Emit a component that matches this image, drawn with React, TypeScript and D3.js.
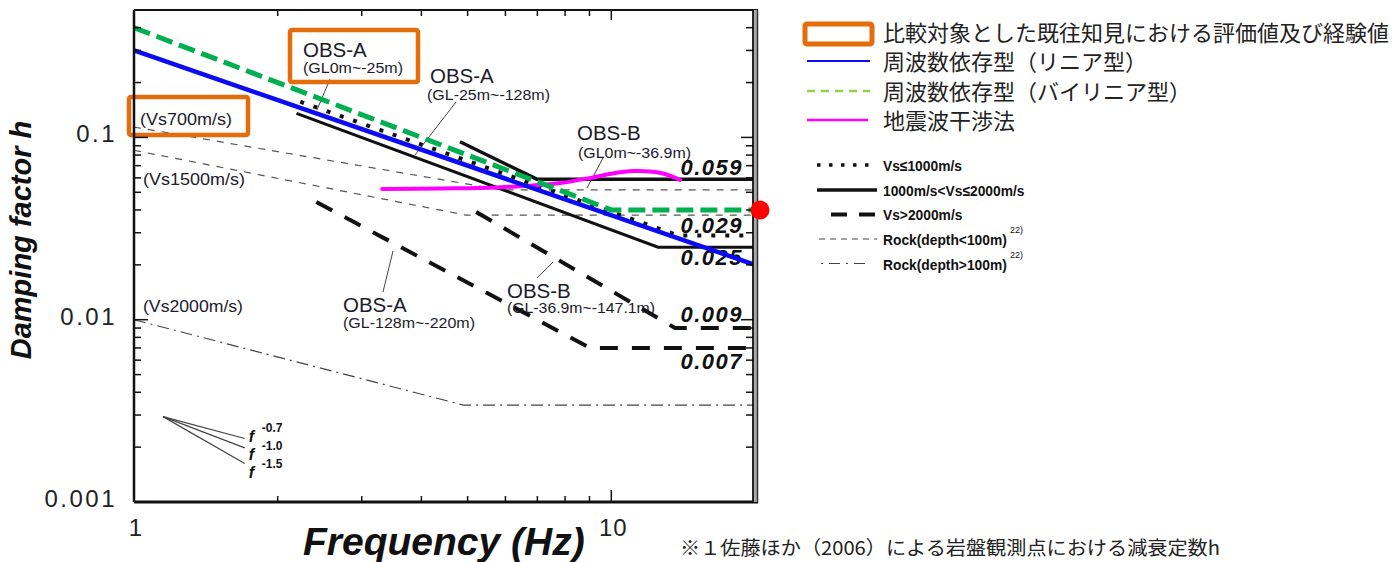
import React from 'react';
import * as d3 from 'd3';

type Pt = [number, number];

// ---------- data ----------
const freqDomain: [number, number] = [1, 20];
const dampDomain: [number, number] = [0.001, 0.5];
const xMajorTicks = [1, 10];
const xMinorTicks = [2, 3, 4, 5, 6, 7, 8, 9];
const yMajorTicks = [0.001, 0.01, 0.1];
const yMinorTicks = [
  0.002, 0.003, 0.004, 0.005, 0.006, 0.007, 0.008, 0.009,
  0.02, 0.03, 0.04, 0.05, 0.06, 0.07, 0.08, 0.09,
  0.2, 0.3, 0.4,
];
const xTickLabels = ['1', '10'];
const yTickLabels = ['0.001', '0.01', '0.1'];

const linearModel: Pt[] = [[1, 0.3], [20, 0.02]];
const bilinearModel: Pt[] = [[1, 0.4], [10, 0.04], [20, 0.04]];
const interferometry: Pt[] = [
  [3.31, 0.0521], [4.38, 0.0525], [5.76, 0.0532], [6.85, 0.0545], [7.81, 0.0562],
  [9.03, 0.0599], [10.18, 0.0638], [11.1, 0.0654], [12.05, 0.065], [12.96, 0.063], [13.93, 0.0584],
];
const vsUnder1000A: Pt[] = [[2.23, 0.157], [13.8, 0.029], [20, 0.029]];
const vsMid1000A: Pt[] = [[2.19, 0.1356], [12.53, 0.025], [20, 0.025]];
const vsMid1000B: Pt[] = [[4.82, 0.0947], [6.98, 0.059], [20, 0.059]];
const vsOver2000A: Pt[] = [[2.41, 0.0442], [9.03, 0.007], [20, 0.007]];
const vsOver2000B: Pt[] = [[5.21, 0.039], [13.6, 0.009], [20, 0.009]];
const rockShallowVs700: Pt[] = [[1, 0.114], [5.9, 0.0515], [20, 0.0515]];
const rockShallowVs1500: Pt[] = [[1, 0.085], [4.95, 0.0375], [20, 0.0375]];
const rockDeepVs2000: Pt[] = [[1, 0.01], [4.9, 0.0034], [20, 0.0034]];
const slopeExponents = [-0.7, -1.0, -1.5];
const slopeLabels = ['-0.7', '-1.0', '-1.5'];
const slopeOrigin: Pt = [1.15, 0.00294];
const slopeEndFreq = 1.706;
const valueLabels = [0.059, 0.029, 0.025, 0.009, 0.007];
const valueLabelTexts = ['0.059', '0.029', '0.025', '0.009', '0.007'];

const legendMain = [
  '比較対象とした既往知見における評価値及び経験値',
  '周波数依存型（リニア型）',
  '周波数依存型（バイリニア型）',
  '地震波干渉法',
];
const legendScan = ['Vs≤1000m/s', '1000m/s<Vs≤2000m/s', 'Vs>2000m/s', 'Rock(depth<100m)', 'Rock(depth>100m)'];
const noteText = '※１佐藤ほか（2006）による岩盤観測点における減衰定数h';

// ---------- layout ----------
const W = 1393;
const H = 562;
const L = 134;
const R = 755;
const T = 10;
const B = 502;
const valueLabelOffsets = [-4, -2, 18, -6, 21];
const slopeLabelBaselines = [442, 460, 478];
const scanLegendBaselines = [171, 196, 220, 245, 270];

const SANS = "'Liberation Sans', Arial, Helvetica, sans-serif";
const CJK = "'Noto Sans CJK JP', 'Noto Sans', sans-serif";
const ORANGE = '#E46C0A';

export default function App() {
  const x = d3.scaleLog().domain(freqDomain).range([L, R]);
  const y = d3.scaleLog().domain(dampDomain).range([B, T]);
  const line = d3.line<Pt>().x((d) => x(d[0])).y((d) => y(d[1]));
  const smooth = d3.line<Pt>().x((d) => x(d[0])).y((d) => y(d[1])).curve(d3.curveCatmullRom.alpha(0.5));

  const slopeLines = slopeExponents.map((n) => {
    const pts: Pt[] = [slopeOrigin, [slopeEndFreq, slopeOrigin[1] * Math.pow(slopeEndFreq / slopeOrigin[0], n)]];
    return pts;
  });

  return (
    <svg width={W} height={H} viewBox={`0 0 ${W} ${H}`} style={{ position: 'absolute', left: 0, top: 0, background: '#fff' }}>
      <rect x={0} y={0} width={W} height={H} fill="#fff" />

      {/* rock reference lines */}
      <path d={line(rockShallowVs700) || ''} fill="none" stroke="#555" strokeWidth={1.2} strokeDasharray="7,7" />
      <path d={line(rockShallowVs1500) || ''} fill="none" stroke="#555" strokeWidth={1.2} strokeDasharray="7,7" />
      <path d={line(rockDeepVs2000) || ''} fill="none" stroke="#444" strokeWidth={1.2} strokeDasharray="12,5,2,5" />

      {/* scanned black lines */}
      <path d={line(vsUnder1000A) || ''} fill="none" stroke="#111" strokeWidth={4} strokeDasharray="4,10" />
      <path d={line(vsMid1000A) || ''} fill="none" stroke="#111" strokeWidth={3} />
      <path d={line(vsMid1000B) || ''} fill="none" stroke="#111" strokeWidth={3.5} />
      <path d={line(vsOver2000A) || ''} fill="none" stroke="#111" strokeWidth={4} strokeDasharray="18,14" />
      <path d={line(vsOver2000B) || ''} fill="none" stroke="#111" strokeWidth={4} strokeDasharray="18,14" />

      {/* slope guide */}
      {slopeLines.map((pts, i) => (
        <path key={i} d={line(pts) || ''} fill="none" stroke="#444" strokeWidth={1.2} />
      ))}
      {slopeLabels.map((s, i) => {
        const end = slopeLines[i][1];
        const ly = slopeLabelBaselines[i];
        return (
          <g key={s} fontFamily={SANS} fill="#111" fontWeight="bold">
            <text x={x(end[0]) + 4} y={ly} fontSize={16} fontStyle="italic">f</text>
            <text x={x(end[0]) + 17} y={ly - 10} fontSize={12}>{s}</text>
          </g>
        );
      })}

      {/* leader lines */}
      <g stroke="#444" strokeWidth={1} fill="none">
        <line x1={330} y1={79} x2={317} y2={110} />
        <line x1={456} y1={102} x2={415} y2={155} />
        <line x1={603} y1={158} x2={587} y2={188} />
        <line x1={393} y1={251} x2={383} y2={292} />
        <line x1={537} y1={278} x2={553} y2={262} />
      </g>

      {/* annotations */}
      <g fontFamily={SANS} fill="#1b1b2b">
        <text x={303} y={56.5} fontSize={20.5}>OBS-A</text>
        <text x={303} y={73} fontSize={14.5} textLength={100} lengthAdjust="spacingAndGlyphs">(GL0m~-25m)</text>
        <text x={430} y={83} fontSize={20.5}>OBS-A</text>
        <text x={427} y={99.5} fontSize={14.5} textLength={123} lengthAdjust="spacingAndGlyphs">(GL-25m~-128m)</text>
        <text x={577} y={140} fontSize={20.5}>OBS-B</text>
        <text x={578} y={158} fontSize={14.5} textLength={113} lengthAdjust="spacingAndGlyphs">(GL0m~-36.9m)</text>
        <text x={343} y={311.5} fontSize={20.5}>OBS-A</text>
        <text x={343} y={328} fontSize={14.5} textLength={132} lengthAdjust="spacingAndGlyphs">(GL-128m~-220m)</text>
        <text x={507} y={298} fontSize={20.5}>OBS-B</text>
        <text x={507} y={313} fontSize={14.5} textLength={148} lengthAdjust="spacingAndGlyphs">(GL-36.9m~-147.1m)</text>
        <text x={140} y={125} fontSize={17} textLength={92} lengthAdjust="spacingAndGlyphs">(Vs700m/s)</text>
        <text x={143} y={185} fontSize={17} textLength={102} lengthAdjust="spacingAndGlyphs">(Vs1500m/s)</text>
        <text x={143} y={311.5} fontSize={17} textLength={100} lengthAdjust="spacingAndGlyphs">(Vs2000m/s)</text>
      </g>

      {/* value labels */}
      {valueLabels.map((v, i) => (
        <text
          key={valueLabelTexts[i]}
          x={743}
          y={y(v) + valueLabelOffsets[i]}
          textAnchor="end"
          fontFamily={SANS}
          fontWeight="bold"
          fontStyle="italic"
          fontSize={22}
          letterSpacing={1.5}
          fill="#111"
        >
          {valueLabelTexts[i]}
        </text>
      ))}

      {/* orange boxes */}
      <rect x={290} y={30} width={128} height={52} rx={2} fill="none" stroke={ORANGE} strokeWidth={4.5} />
      <rect x={129} y={97} width={119} height={38} rx={2} fill="none" stroke={ORANGE} strokeWidth={4.5} />

      {/* overlaid evaluation lines */}
      <path d={smooth(interferometry) || ''} fill="none" stroke="#FF00FF" strokeWidth={4} strokeLinecap="round" />
      <path d={line(linearModel) || ''} fill="none" stroke="#0A0AF5" strokeWidth={4.5} />
      <path d={line(bilinearModel) || ''} fill="none" stroke="#00B050" strokeWidth={5} strokeDasharray="17,7" />

      {/* frame */}
      <line x1={L} y1={T} x2={R + 3} y2={T} stroke="#111" strokeWidth={2} />
      <line x1={L} y1={B} x2={R + 3} y2={B} stroke="#111" strokeWidth={3} />
      <line x1={L} y1={T} x2={L} y2={B} stroke="#111" strokeWidth={2.5} />
      <rect x={R - 2} y={T} width={5} height={B - T} fill="#aaa" />
      <line x1={R - 2} y1={T} x2={R - 2} y2={B} stroke="#111" strokeWidth={1.8} />
      <line x1={R + 2.5} y1={T} x2={R + 2.5} y2={B} stroke="#333" strokeWidth={1.5} />

      {/* ticks */}
      <g stroke="#111" strokeWidth={1.5}>
        {yMinorTicks.map((t) => (
          <g key={`ym${t}`}>
            <line x1={L} x2={L + 7} y1={y(t)} y2={y(t)} />
            <line x1={R - 2} x2={R - 9} y1={y(t)} y2={y(t)} />
          </g>
        ))}
        {yMajorTicks.map((t) => (
          <g key={`yM${t}`}>
            <line x1={L} x2={L + 14} y1={y(t)} y2={y(t)} />
            <line x1={R - 2} x2={R - 14} y1={y(t)} y2={y(t)} />
          </g>
        ))}
        {xMinorTicks.map((t) => (
          <g key={`xm${t}`}>
            <line x1={x(t)} x2={x(t)} y1={B} y2={B - 6} />
            <line x1={x(t)} x2={x(t)} y1={T} y2={T + 6} />
          </g>
        ))}
        {xMajorTicks.slice(1).map((t) => (
          <g key={`xM${t}`}>
            <line x1={x(t)} x2={x(t)} y1={B} y2={B - 12} />
            <line x1={x(t)} x2={x(t)} y1={T} y2={T + 10} />
          </g>
        ))}
      </g>

      {/* tick labels */}
      <g fontFamily={SANS} fontSize={24} fill="#222">
        {yMajorTicks.map((t, i) => (
          <text key={yTickLabels[i]} x={117} y={y(t) + 5} textAnchor="end" letterSpacing={2.5}>
            {yTickLabels[i]}
          </text>
        ))}
        {xMajorTicks.map((t, i) => (
          <text key={xTickLabels[i]} x={x(t) + 2} y={536} textAnchor="middle" letterSpacing={1}>
            {xTickLabels[i]}
          </text>
        ))}
      </g>

      {/* axis titles */}
      <text
        transform="translate(31,240) rotate(-90)"
        textAnchor="middle"
        fontFamily={SANS}
        fontWeight="bold"
        fontStyle="italic"
        fontSize={29}
        fill="#111"
      >
        Damping factor h
      </text>
      <text x={303} y={555} fontFamily={SANS} fontWeight="bold" fontStyle="italic" fontSize={39} fill="#111">
        Frequency (Hz)
      </text>

      {/* red marker */}
      <circle cx={x(freqDomain[1]) + 5} cy={y(bilinearModel[2][1])} r={9.5} fill="#FF0000" />

      {/* main legend */}
      <g fontFamily={CJK} fontSize={22} fill="#222">
        <rect x={805} y={24} width={67} height={20} rx={2} fill="none" stroke={ORANGE} strokeWidth={5} />
        <text x={883} y={41}>{legendMain[0]}</text>
        <line x1={807} x2={870} y1={61} y2={61} stroke="#0A0AF5" strokeWidth={2} />
        <text x={883} y={70}>{legendMain[1]}</text>
        <line x1={807} x2={870} y1={91} y2={91} stroke="#92D050" strokeWidth={2.5} strokeDasharray="8,6" />
        <text x={883} y={100}>{legendMain[2]}</text>
        <line x1={807} x2={868} y1={120} y2={120} stroke="#FF00FF" strokeWidth={2.5} />
        <text x={883} y={129}>{legendMain[3]}</text>
      </g>

      {/* scanned legend */}
      <g>
        <line x1={817} x2={877} y1={165} y2={165} stroke="#111" strokeWidth={3.5} strokeDasharray="3.5,8.5" />
        <line x1={817} x2={877} y1={190} y2={190} stroke="#111" strokeWidth={3.5} />
        <line x1={831} x2={875} y1={214.5} y2={214.5} stroke="#111" strokeWidth={4} strokeDasharray="16,12" />
        <line x1={819} x2={877} y1={239} y2={239} stroke="#444" strokeWidth={1} strokeDasharray="6,5" />
        <line x1={821} x2={870} y1={263.5} y2={263.5} stroke="#444" strokeWidth={1} strokeDasharray="2,6,11,6" />
      </g>
      <g fontFamily={SANS} fontWeight="bold" fontSize={15} fill="#111">
        {legendScan.map((s, i) => (
          <g key={s} transform={`translate(883,${scanLegendBaselines[i]}) scale(0.92,1)`}>
            <text x={0} y={0}>{s}</text>
          </g>
        ))}
        <text x={1010} y={233} fontSize={9} fontWeight="normal">22)</text>
        <text x={1010} y={258} fontSize={9} fontWeight="normal">22)</text>
      </g>

      {/* note */}
      <text x={680} y={555} fontFamily={CJK} fontSize={19} fill="#222" textLength={540} lengthAdjust="spacingAndGlyphs">
        {noteText}
      </text>
    </svg>
  );
}
